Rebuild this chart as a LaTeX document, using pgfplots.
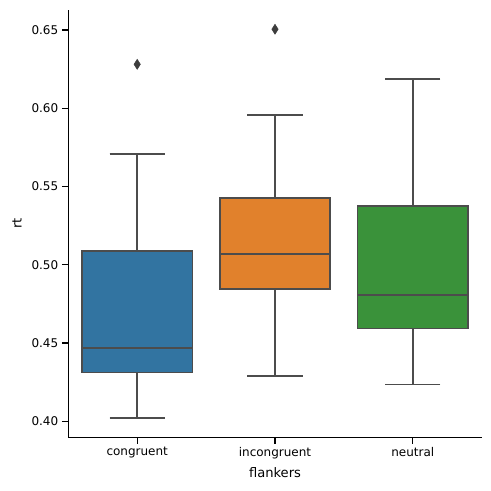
\documentclass[border=0pt]{standalone}
\usepackage{fontspec}
\setmainfont{DejaVu Sans}
\usepackage{pgfplots}
\usepgfplotslibrary{statistics}
\pgfplotsset{compat=1.18}
\definecolor{cblue}{HTML}{3274A1}
\definecolor{corange}{HTML}{E1812C}
\definecolor{cgreen}{HTML}{3A923A}
\definecolor{edge}{HTML}{4C4C4C}
\definecolor{flier}{HTML}{3D3D3D}
\begin{document}
\begin{tikzpicture}
\begin{axis}[
  scale only axis, width=413.4pt, height=427.3pt,
  xmin=-0.5, xmax=2.5, ymin=0.3898, ymax=0.6628,
  axis x line*=bottom, axis y line*=left,
  axis line style={line width=1.3pt, black, -},
  xtick={0,1,2}, xticklabels={congruent,incongruent,neutral},
  ytick={0.40,0.45,0.50,0.55,0.60,0.65},
  yticklabels={0.40,0.45,0.50,0.55,0.60,0.65},
  tick align=outside, major tick length=6.5pt,
  tick style={line width=1.3pt, black},
  ticklabel style={font=\fontsize{12}{14}\selectfont},
  every axis x label/.style={at={(rel axis cs:0.5,0)}, yshift=-35.4pt, anchor=center, font=\fontsize{13.1}{15}\selectfont},
  every axis y label/.style={at={(rel axis cs:0,0.5)}, xshift=-51.3pt, rotate=90, anchor=center, font=\fontsize{13.1}{15}\selectfont},
  xlabel={flankers}, ylabel={rt},
  clip=false,
  boxplot/draw direction=y,
  boxplot/box extend=0.8,
  boxplot/whisker extend=0.4,
]
\coordinate (sw) at (rel axis cs:0,0);
\addplot[boxplot prepared={draw position=0, median=0.4468, upper quartile=0.5088, lower quartile=0.4311, upper whisker=0.5708, lower whisker=0.4021},
  boxplot/draw direction=y,
  draw=edge, fill=cblue, line width=1.5pt, mark=diamond*, mark size=5pt, mark options={fill=flier, draw=flier, line width=0.5pt, xscale=0.85}]
  table[row sep=\\, y index=0] {data\\ 0.6281\\};
\addplot[boxplot prepared={draw position=1, median=0.5071, upper quartile=0.5427, lower quartile=0.4845, upper whisker=0.5957, lower whisker=0.4291},
  boxplot/draw direction=y,
  draw=edge, fill=corange, line width=1.5pt, mark=diamond*, mark size=5pt, mark options={fill=flier, draw=flier, line width=0.5pt, xscale=0.85}]
  table[row sep=\\, y index=0] {data\\ 0.6505\\};
\addplot[boxplot prepared={draw position=2, median=0.4803, upper quartile=0.5376, lower quartile=0.4592, upper whisker=0.6187, lower whisker=0.4234},
  boxplot/draw direction=y,
  draw=edge, fill=cgreen, line width=1.5pt]
  coordinates {};
% medians
\addplot[draw=edge, line width=1.6pt, no marks] coordinates {(-0.4,0.4468) (0.4,0.4468)};
\addplot[draw=edge, line width=1.6pt, no marks] coordinates {(0.6,0.5071) (1.4,0.5071)};
\addplot[draw=edge, line width=2pt, no marks] coordinates {(1.6,0.4804) (2.4,0.4804)};
\end{axis}
\pgfresetboundingbox
\path[use as bounding box] (sw) ++(-68.3pt,-53.7pt) rectangle ++(491pt,491pt);
\end{tikzpicture}
\end{document}
